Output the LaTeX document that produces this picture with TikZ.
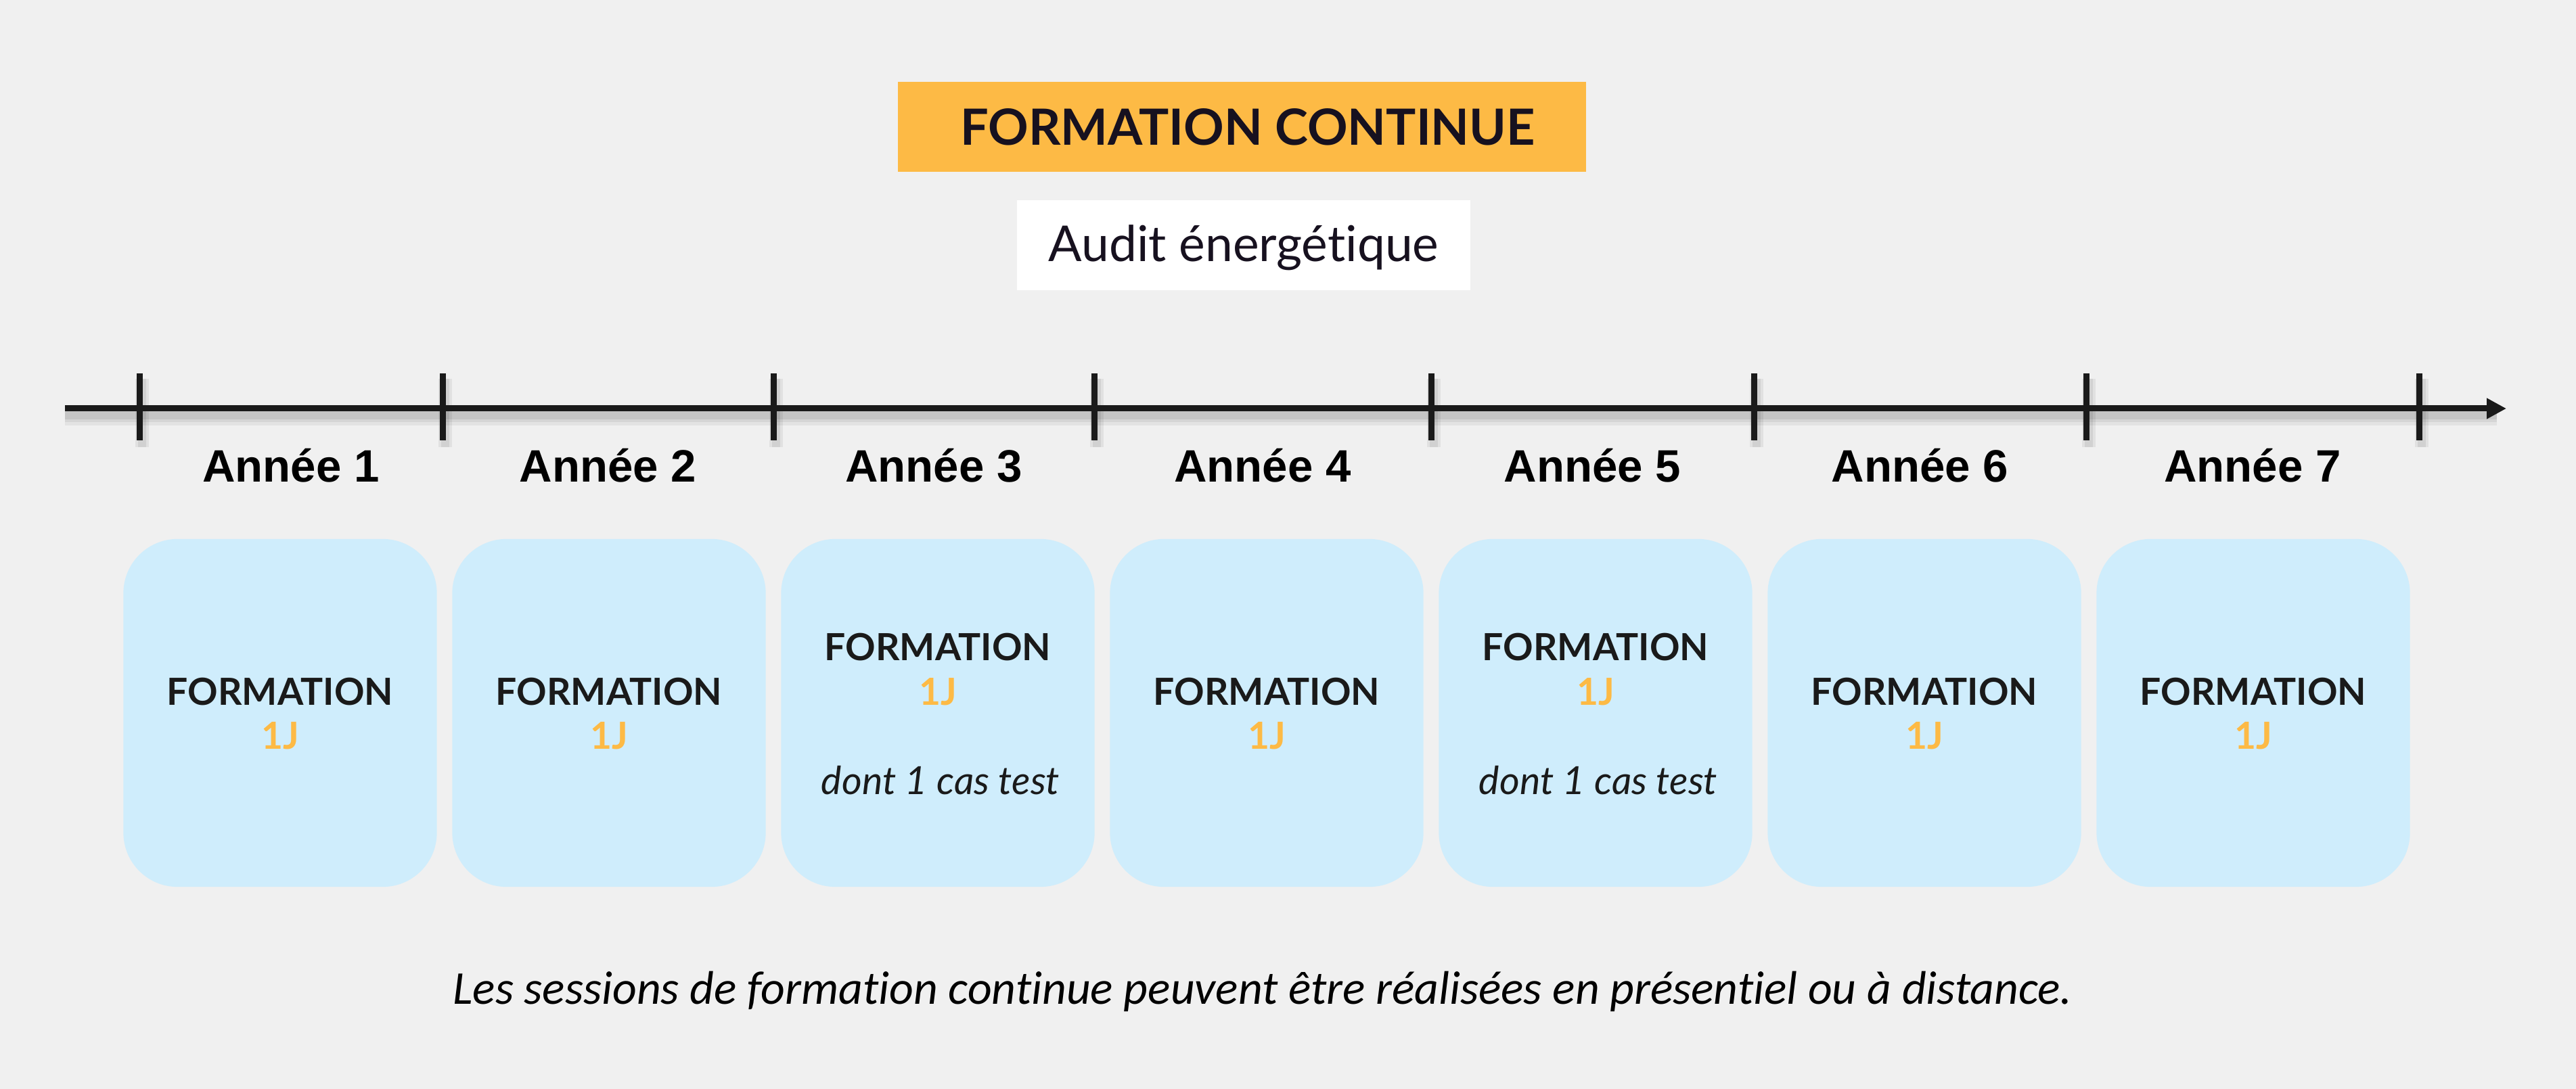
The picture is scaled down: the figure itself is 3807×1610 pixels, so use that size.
\documentclass[tikz,border=0pt]{standalone}
\usepackage{fontspec}
\setmainfont{Lato}[Ligatures=NoCommon]
\newfontfamily\yearfont{Liberation Sans}
\newfontfamily\notefont{Carlito}[Ligatures=NoCommon]
\usetikzlibrary{arrows.meta}
\definecolor{bg}{HTML}{F0F0F0}
\definecolor{ora}{HTML}{FDBA45}
\definecolor{sky}{HTML}{CFEDFC}
\definecolor{ink}{HTML}{1A1A1A}
\definecolor{navy}{HTML}{17111F}
\tikzset{
  titlebox/.style={fill=ora, inner sep=0pt, minimum width=10.17cm, minimum height=1.33cm},
  auditbox/.style={fill=white, inner sep=0pt, minimum width=6.70cm, minimum height=1.33cm},
  titletext/.style={anchor=base, inner sep=0pt, text=navy, font=\fontsize{21}{25}\selectfont\bfseries},
  audittext/.style={anchor=base, inner sep=0pt, text=navy, font=\fontsize{20.8}{25}\selectfont},
  yearlabel/.style={anchor=base, inner sep=0pt, text=black, font=\yearfont\fontsize{19.1}{23}\selectfont\bfseries},
  yearbox/.style={fill=sky, inner sep=0pt, minimum width=4.63cm, minimum height=5.14cm, rounded corners=0.8cm},
  formtext/.style={anchor=base, inner sep=0pt, text=ink, font=\fontsize{15.7}{19}\selectfont\bfseries},
  daytext/.style={anchor=base, inner sep=0pt, text=ora, font=\fontsize{15.7}{19}\selectfont\bfseries},
  casetext/.style={anchor=base, inner sep=0pt, text=ink, font=\fontsize{16.3}{19}\selectfont\itshape},
  notetext/.style={anchor=base, inner sep=0pt, text=black, font=\notefont\fontsize{19.8}{24}\selectfont\itshape},
  axisline/.style={draw=ink, line width=0.09cm},
  tickline/.style={draw=ink, line width=0.09cm},
  shade1/.style={draw=black, opacity=0.05, line width=0.30cm},
  shade2/.style={draw=black, opacity=0.06, line width=0.20cm},
  shade3/.style={draw=black, opacity=0.07, line width=0.12cm},
}
\begin{document}
\begin{tikzpicture}[x=0.01cm, y=-0.01cm]
\useasboundingbox (0,0) rectangle (3807,1610);
\fill[bg] (0,0) rectangle (3807,1610);

% title
\node[titlebox] (titlebg) at (1835.5,187.5) {};
\node[titletext] (title) at (1844,215) {FORMATION CONTINUE};
\node[auditbox] (auditbg) at (1838,362.5) {};
\node[audittext] (audit) at (1838,387) {Audit énergétique};

% timeline
\coordinate (ax0) at (96,604);
\coordinate (ax1) at (3704,604);
\coordinate (sh0) at (96,614);
\coordinate (sh1) at (3690,614);
\foreach \s in {shade1,shade2,shade3}{
  \draw[\s] (sh0) -- (sh1);
}
\foreach \x [count=\i] in {206,654,1143,1617,2115,2592,3083,3575}{
  \coordinate (tt\i) at (\x,552);
  \coordinate (tb\i) at (\x,651);
  \coordinate (st\i) at (\x+4,560);
  \coordinate (sb\i) at (\x+4,661);
  \foreach \s in {shade2,shade3}{\draw[\s] (st\i) -- (sb\i);}
}
\draw[axisline, -{Triangle[length=0.29cm, width=0.29cm]}] (ax0) -- (ax1);
\foreach \i in {1,...,8}{
  \draw[tickline] (tt\i) -- (tb\i);
}

% year labels
\foreach \a/\b [count=\i] in {206/654,654/1143,1143/1617,1617/2115,2115/2592,2592/3083,3083/3575}{
  \node[yearlabel] (year\i) at ({(\a+\b)/2},713) {Année \i};
}

% boxes
\foreach \i in {1,...,7}{
  \node[yearbox] (box\i) at ({414+486*(\i-1)},1054) {};
}
\foreach \i in {1,2,4,6,7}{
  \node[formtext] (form\i) at ({414+486*(\i-1)},1042) {FORMATION};
  \node[daytext] (day\i) at ({414+486*(\i-1)},1107) {1J};
}
\foreach \i in {3,5}{
  \node[formtext] (form\i) at ({414+486*(\i-1)},976) {FORMATION};
  \node[daytext] (day\i) at ({414+486*(\i-1)},1042) {1J};
  \node[casetext] (case\i) at ({414+486*(\i-1)+4},1174) {dont 1 cas test};
}

% note
\node[notetext] (note) at (1866,1484) {Les sessions de formation continue peuvent être réalisées en présentiel ou à distance.};
\end{tikzpicture}
\end{document}
